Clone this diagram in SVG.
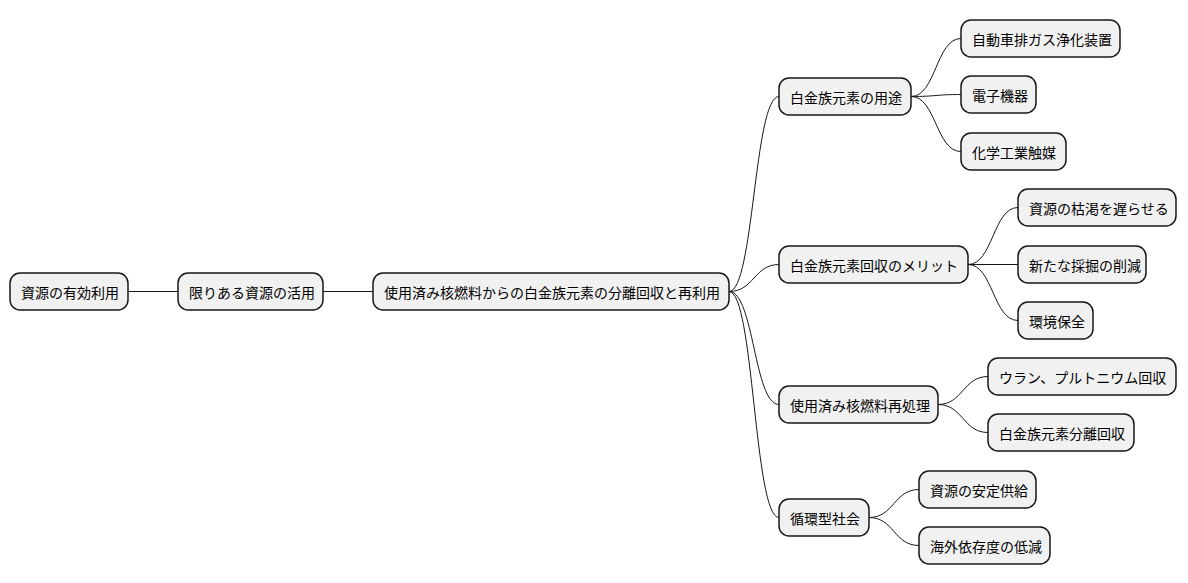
<svg xmlns="http://www.w3.org/2000/svg" width="1188" height="583" viewBox="0 0 1188 583">
<style>
.n rect{fill:#f1f1f1;stroke:#181818;stroke-width:1.5}
.n text{font-family:"Noto Sans CJK JP","Noto Sans",sans-serif;font-size:14px;fill:#000;dominant-baseline:central}
#c path{fill:none;stroke:#181818;stroke-width:1}
</style>
<rect width="1188" height="583" fill="#fff"/>
<g id="c">
<path d="M128 291.5H178"/>
<path d="M323 291.5H373"/>
<path d="M729 291.5C754 291.5 754 96.5 779 96.5"/>
<path d="M729 291.5C754 291.5 754 264.5 779 264.5"/>
<path d="M729 291.5C754 291.5 754 404.5 779 404.5"/>
<path d="M729 291.5C754 291.5 754 517.5 779 517.5"/>
<path d="M911 96.5C936 96.5 936 38.5 961 38.5"/>
<path d="M911 96.5C936 96.5 936 94.5 961 94.5"/>
<path d="M911 96.5C936 96.5 936 151.5 961 151.5"/>
<path d="M968 264.5C993 264.5 993 207.5 1018 207.5"/>
<path d="M968 264.5H1018"/>
<path d="M968 264.5C993 264.5 993 320.5 1018 320.5"/>
<path d="M938 404.5C963 404.5 963 376.5 988 376.5"/>
<path d="M938 404.5C963 404.5 963 432.5 988 432.5"/>
<path d="M869 517.5C894 517.5 894 489.5 919 489.5"/>
<path d="M869 517.5C894 517.5 894 545.5 919 545.5"/>
</g>
<g id="n1" class="n"><rect x="10" y="273" width="118" height="37" rx="10"/><text x="21" y="291.5">資源の有効利用</text></g>
<g id="n2" class="n"><rect x="178" y="273" width="145" height="37" rx="10"/><text x="189" y="291.5">限りある資源の活用</text></g>
<g id="n3" class="n"><rect x="373" y="273" width="356" height="37" rx="10"/><text x="384" y="291.5">使用済み核燃料からの白金族元素の分離回収と再利用</text></g>
<g id="n4" class="n"><rect x="779" y="78" width="132" height="37" rx="10"/><text x="790" y="96.5">白金族元素の用途</text></g>
<g id="n5" class="n"><rect x="961" y="20" width="159" height="37" rx="10"/><text x="972" y="38.5">自動車排ガス浄化装置</text></g>
<g id="n6" class="n"><rect x="961" y="76" width="75" height="37" rx="10"/><text x="972" y="94.5">電子機器</text></g>
<g id="n7" class="n"><rect x="961" y="133" width="105" height="37" rx="10"/><text x="972" y="151.5">化学工業触媒</text></g>
<g id="n8" class="n"><rect x="779" y="246" width="189" height="37" rx="10"/><text x="790" y="264.5">白金族元素回収のメリット</text></g>
<g id="n9" class="n"><rect x="1018" y="189" width="158" height="37" rx="10"/><text x="1029" y="207.5">資源の枯渇を遅らせる</text></g>
<g id="n10" class="n"><rect x="1018" y="246" width="128" height="37" rx="10"/><text x="1029" y="264.5">新たな採掘の削減</text></g>
<g id="n11" class="n"><rect x="1018" y="302" width="75" height="37" rx="10"/><text x="1029" y="320.5">環境保全</text></g>
<g id="n12" class="n"><rect x="779" y="386" width="159" height="37" rx="10"/><text x="790" y="404.5">使用済み核燃料再処理</text></g>
<g id="n13" class="n"><rect x="988" y="358" width="188" height="37" rx="10"/><text x="999" y="376.5">ウラン、プルトニウム回収</text></g>
<g id="n14" class="n"><rect x="988" y="414" width="146" height="37" rx="10"/><text x="999" y="432.5">白金族元素分離回収</text></g>
<g id="n15" class="n"><rect x="779" y="499" width="90" height="37" rx="10"/><text x="790" y="517.5">循環型社会</text></g>
<g id="n16" class="n"><rect x="919" y="471" width="117" height="37" rx="10"/><text x="930" y="489.5">資源の安定供給</text></g>
<g id="n17" class="n"><rect x="919" y="527" width="131" height="37" rx="10"/><text x="930" y="545.5">海外依存度の低減</text></g>
</svg>
